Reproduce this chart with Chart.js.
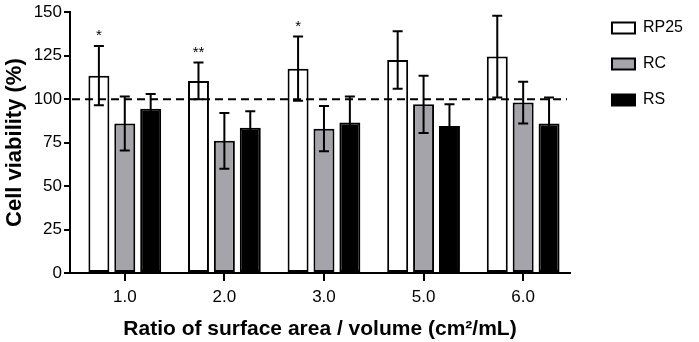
<!DOCTYPE html>
<html>
<head>
<meta charset="utf-8">
<script src="https://cdn.jsdelivr.net/npm/chart.js@4.4.0/dist/chart.umd.min.js"></script>
<style>
html,body{margin:0;padding:0;background:#fff;}
#wrap{width:699px;height:342px;}
</style>
</head>
<body>
<div id="wrap"><canvas id="c" width="699" height="342"></canvas></div>
<script>
// ---- data ----
const categories = ['1.0', '2.0', '3.0', '5.0', '6.0'];
const seriesNames = ['RP25', 'RC', 'RS'];
const rp25Mean = [113.5, 110.5, 117.5, 122.5, 124.5];
const rp25Err  = [17, 10.5, 18.5, 16.5, 23.5];
const rcMean   = [86, 76, 83, 97, 98];
const rcErr    = [15.5, 16, 13, 16.5, 12];
const rsMean   = [94.5, 83.5, 86.5, 84.5, 86];
const rsErr    = [8.5, 9.5, 15, 12.5, 15];
const rp25Significance = ['*', '**', '*', '', ''];
const referenceValue = 100;
const yMin = 0, yMax = 150, yStep = 25;

const FONT = "'Liberation Sans', Arial, Helvetica, sans-serif";
Chart.defaults.font.family = FONT;
Chart.defaults.color = '#000';

const means = [rp25Mean, rcMean, rsMean];
const errs = [rp25Err, rcErr, rsErr];
const fills = ['#ffffff', '#a4a4aa', '#000000'];
const sigs = [rp25Significance, null, null];

const datasets = seriesNames.map((name, d) => ({
  label: name,
  data: means[d].map((v, i) => ({x: i, y: v})),
  backgroundColor: fills[d],
  borderColor: '#000',
  borderWidth: 2,
  borderSkipped: false,
  categoryPercentage: 0.78,
  barPercentage: 0.81,
  errors: errs[d],
  significance: sigs[d]
}));

const errorBarPlugin = {
  id: 'errorBars',
  afterDatasetsDraw(chart) {
    const ctx = chart.ctx;
    const y = chart.scales.y;
    ctx.save();
    ctx.strokeStyle = '#000';
    ctx.lineWidth = 2;
    chart.data.datasets.forEach((ds, d) => {
      const meta = chart.getDatasetMeta(d);
      meta.data.forEach((bar, i) => {
        const m = ds.data[i].y, e = ds.errors[i];
        const yt = y.getPixelForValue(m + e);
        const yb = y.getPixelForValue(m - e);
        const x = bar.x, cap = 5;
        ctx.beginPath();
        ctx.moveTo(x, yt); ctx.lineTo(x, yb);
        ctx.moveTo(x - cap, yt); ctx.lineTo(x + cap, yt);
        ctx.moveTo(x - cap, yb); ctx.lineTo(x + cap, yb);
        ctx.stroke();
      });
    });
    // reference dashed line
    const yr = y.getPixelForValue(referenceValue);
    const a = chart.chartArea;
    ctx.setLineDash([8, 5]);
    ctx.beginPath();
    ctx.moveTo(a.left + 2, yr);
    ctx.lineTo(a.right - 3, yr);
    ctx.stroke();
    ctx.setLineDash([]);
    // significance marks
    ctx.fillStyle = '#000';
    ctx.font = '15px ' + FONT;
    ctx.textAlign = 'center';
    ctx.textBaseline = 'alphabetic';
    chart.data.datasets.forEach((ds, d) => {
      if (!ds.significance) return;
      const meta = chart.getDatasetMeta(d);
      meta.data.forEach((bar, i) => {
        const s = ds.significance[i];
        if (!s) return;
        const yt = y.getPixelForValue(ds.data[i].y + ds.errors[i]);
        ctx.fillText(s, bar.x, yt - 6);
      });
    });
    ctx.restore();
  }
};

new Chart(document.getElementById('c'), {
  type: 'bar',
  data: { datasets },
  plugins: [errorBarPlugin],
  options: {
    responsive: false,
    animation: false,
    devicePixelRatio: 1,
    layout: { padding: { left: 0, right: 6, top: 0, bottom: 0 } },
    plugins: {
      legend: {
        position: 'right',
        align: 'start',
        labels: {
          boxWidth: 23,
          boxHeight: 11,
          padding: 20,
          color: '#000',
          font: { size: 16, family: FONT }
        }
      },
      tooltip: { enabled: false }
    },
    scales: {
      x: {
        type: 'linear',
        min: -0.55,
        max: 4.47,
        offset: false,
        afterBuildTicks: s => { s.ticks = categories.map((_, i) => ({ value: i })); },
        ticks: {
          callback: v => categories[v] ?? '',
          font: { size: 17 },
          color: '#000',
          padding: 6,
          maxRotation: 0,
          autoSkip: false
        },
        grid: { offset: false, drawOnChartArea: false, drawTicks: true, tickLength: 8, color: '#000', lineWidth: 2 },
        border: { color: '#000', width: 2 },
        title: {
          display: true,
          text: 'Ratio of surface area / volume (cm²/mL)',
          font: { size: 21, weight: 'bold' },
          color: '#000',
          padding: { top: 8, bottom: 0 }
        },
        afterFit: s => { s.height = 69; }
      },
      y: {
        min: yMin,
        max: yMax,
        ticks: { stepSize: yStep, font: { size: 17 }, color: '#000', padding: 2 },
        grid: { drawOnChartArea: false, drawTicks: true, tickLength: 6, color: '#000', lineWidth: 2 },
        border: { color: '#000', width: 2 },
        title: {
          display: true,
          text: 'Cell viability (%)',
          font: { size: 22, weight: 'bold' },
          color: '#000',
          padding: { top: 2, bottom: 0 }
        },
        afterFit: s => { s.width = 70; }
      },
      gap: {
        type: 'linear',
        position: 'right',
        display: true,
        ticks: { display: false },
        grid: { display: false },
        border: { display: false },
        afterFit: s => { s.width = 22; }
      }
    }
  }
});
</script>
</body>
</html>
